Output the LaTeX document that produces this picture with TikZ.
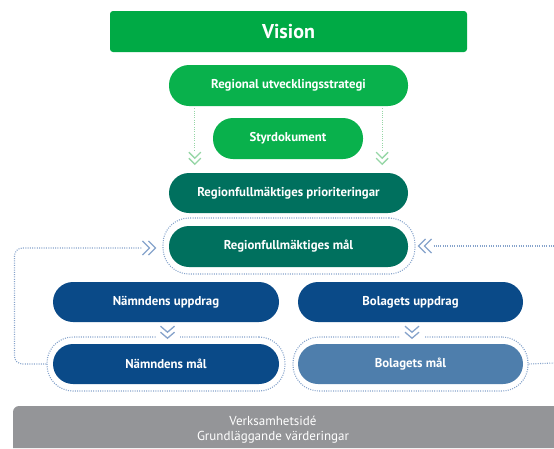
\documentclass[tikz,border=0pt]{standalone}
\usepackage{fontspec}
\setmainfont{PT Sans}
\usetikzlibrary{calc}
\definecolor{visgreen}{HTML}{00AA45}
\definecolor{lgreen}{HTML}{09B14C}
\definecolor{teal}{HTML}{00705E}
\definecolor{dblue}{HTML}{0A4A88}
\definecolor{lblue}{HTML}{4E7EAC}
\definecolor{basegray}{HTML}{949598}
\definecolor{dotblue}{HTML}{86A3CB}
\definecolor{dotgreen}{HTML}{96D6A6}
\tikzset{
  pill/.style={rectangle, rounded corners=20pt, text=white, font=\bfseries\fontsize{12.8}{14}\selectfont, inner sep=0pt},
  outline/.style={draw=dotblue, line width=1.1pt, dash pattern=on 1pt off 1.3pt, rounded corners=26pt, rectangle, inner sep=0pt},
  dotline/.style={draw=dotblue, line width=1.1pt, dash pattern=on 1pt off 1.3pt},
  gdotline/.style={draw=dotgreen, line width=1.1pt, dash pattern=on 1pt off 1.3pt},
  chev/.style={line width=1.3pt, line join=miter},
}
\begin{document}
\begin{tikzpicture}[x=1pt,y=-1pt]
\useasboundingbox (0,0) rectangle (554,448);
% Vision
\node[fill=visgreen, rounded corners=3pt, minimum width=357pt, minimum height=41pt, text=white, font=\bfseries\fontsize{20}{22}\selectfont, inner sep=0pt] (vision) at (288.5,31.5) {Vision};
\node[pill, fill=lgreen, minimum width=239pt, minimum height=41pt] (rus) at (288.5,85.5) {Regional utvecklingsstrategi};
\node[pill, fill=lgreen, minimum width=150pt, minimum height=41pt] (styr) at (288,138.5) {Styrdokument};
\node[pill, fill=teal, minimum width=239pt, minimum height=40pt] (prio) at (288.5,193) {Regionfullmäktiges prioriteringar};
\node[pill, fill=teal, minimum width=239pt, minimum height=41pt] (rfm) at (288.5,246.5) {Regionfullmäktiges mål};
\node[outline, minimum width=252pt, minimum height=56pt] (rfmout) at (289,246) {};
\node[pill, fill=dblue, minimum width=226pt, minimum height=40pt] (nu) at (166,302) {Nämndens uppdrag};
\node[pill, fill=dblue, minimum width=226pt, minimum height=40pt] (nm) at (166,364) {Nämndens mål};
\node[outline, minimum width=238pt, minimum height=54pt] (nmout) at (166,364) {};
\node[pill, fill=dblue, minimum width=225pt, minimum height=40pt] (bu) at (410.5,302) {Bolagets uppdrag};
\node[pill, fill=lblue, minimum width=225pt, minimum height=40pt] (bm) at (410.5,364) {Bolagets mål};
\node[outline, minimum width=235pt, minimum height=54pt] (bmout) at (410.5,364) {};
% base
\fill[basegray] (13,448) -- (13,412) arc[start angle=180, end angle=270, radius=6] -- (554,406) -- (554,448) -- cycle;
\node[text=white, font=\fontsize{13}{14.5}\selectfont, align=center] (base) at (273,429.5) {Verksamhetsidé\\Grundläggande värderingar};
% green dotted connectors with chevrons
\coordinate (gc1) at ($(rus.south west)+(26,44)$);
\coordinate (gc2) at ($(rus.south east)+(-26,44)$);
\draw[gdotline] ($(rus.south west)+(26,2)$) -- (gc1);
\draw[gdotline] ($(rus.south east)+(-26,2)$) -- (gc2);
\foreach \c in {gc1,gc2}{
  \draw[dotgreen, chev] ($(\c)+(-6,2)$) -- ($(\c)+(0,8)$) -- ($(\c)+(6,2)$);
  \draw[dotgreen, chev] ($(\c)+(-6,8)$) -- ($(\c)+(0,14)$) -- ($(\c)+(6,8)$);
}
% left feedback loop
\coordinate (lch) at ($(rfmout.west)+(-20,2)$);
\draw[dotline, rounded corners=8pt] (nmout.west) -- ++(-32,0) |- (lch);
\draw[dotblue, chev] ($(lch)+(0,-7)$) -- ($(lch)+(7,0)$) -- ($(lch)+(0,7)$);
\draw[dotblue, chev] ($(lch)+(6,-7)$) -- ($(lch)+(13,0)$) -- ($(lch)+(6,7)$);
% right feedback
\coordinate (rch) at ($(rfmout.east)+(3,0)$);
\coordinate (redge1) at (554,246);
\coordinate (redge2) at (554,363);
\draw[dotline] ($(rch)+(15,0)$) -- (redge1);
\draw[dotblue, chev] ($(rch)+(7,-7)$) -- ($(rch)+(0,0)$) -- ($(rch)+(7,7)$);
\draw[dotblue, chev] ($(rch)+(13,-7)$) -- ($(rch)+(6,0)$) -- ($(rch)+(13,7)$);
\draw[dotline] (bmout.east) -- (redge2);
% down chevrons between uppdrag and mål
\foreach \n/\o in {nu/nmout,bu/bmout}{
  \coordinate (dc) at ($(\n.south)+(1.5,4)$);
  \fill[white] ($(dc)+(-12,6)$) rectangle ($(dc)+(12,14)$);
  \draw[dotblue, chev] ($(dc)+(-7,0)$) -- ($(dc)+(0,6)$) -- ($(dc)+(7,0)$);
  \draw[dotblue, chev] ($(dc)+(-7,6)$) -- ($(dc)+(0,12)$) -- ($(dc)+(7,6)$);
}
\end{tikzpicture}
\end{document}
